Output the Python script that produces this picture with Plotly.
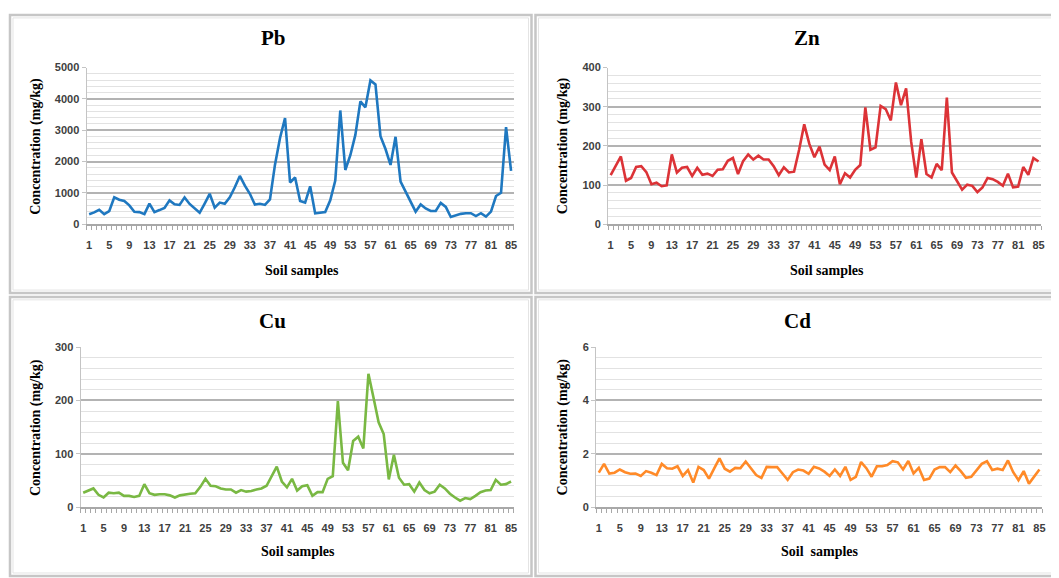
import plotly.graph_objects as go

samples = list(range(1, 86))
tick_samples = list(range(1, 86, 4))

pb = [320, 375, 460, 320, 415, 855, 780, 740, 600, 395,
      385, 320, 655, 385, 450, 520, 760, 635, 615, 855,
      645, 500, 365, 660, 970, 530, 690, 650, 860, 1180,
      1540, 1230, 970, 625, 650, 615, 790, 1900, 2750, 3390,
      1330, 1490, 740, 690, 1210, 345, 365, 385, 760, 1390,
      3630, 1730, 2200, 2850, 3920, 3730, 4590, 4460, 2810, 2400,
      1890, 2790, 1360, 1050, 700, 400, 630, 500, 420, 420,
      680, 550, 230, 290, 330, 350, 350, 260, 350, 240,
      400, 900, 1000, 3100, 1700]

zn = [125, 150, 173, 111, 118, 146, 148, 133, 102, 106,
      97, 99, 178, 132, 144, 146, 123, 144, 126, 129,
      123, 139, 140, 162, 169, 128, 161, 178, 165, 175,
      165, 165, 148, 125, 145, 132, 134, 190, 255, 205,
      171, 198, 152, 138, 173, 102, 130, 119, 139, 151,
      298, 190, 196, 302, 294, 265, 362, 304, 347, 210,
      119, 217, 128, 119, 154, 138, 323, 132, 111, 88,
      101, 98, 82, 94, 118, 115, 108, 98, 129, 94,
      96, 146, 126, 169, 160]

cu = [27, 31, 35, 23, 18, 27, 26, 27, 21, 21,
      19, 21, 43, 26, 23, 24, 24, 22, 18, 22,
      24, 25, 26, 38, 53, 40, 39, 35, 33, 33,
      27, 32, 29, 30, 33, 35, 40, 58, 76, 48,
      37, 53, 31, 39, 41, 21, 28, 28, 53, 58,
      199, 83, 69, 124, 132, 110, 250, 205, 159, 137,
      52, 98, 55, 42, 43, 29, 46, 32, 26, 29,
      42, 35, 25, 18, 12, 17, 15, 21, 28, 31,
      32, 51, 42, 43, 48]

cd = [1.29, 1.62, 1.26, 1.29, 1.41, 1.31, 1.25, 1.26, 1.17, 1.35,
      1.29, 1.20, 1.62, 1.46, 1.44, 1.53, 1.17, 1.39, 0.92, 1.51,
      1.39, 1.07, 1.45, 1.83, 1.44, 1.33, 1.47, 1.46, 1.71, 1.44,
      1.20, 1.09, 1.51, 1.50, 1.50, 1.26, 1.02, 1.31, 1.41, 1.37,
      1.25, 1.51, 1.45, 1.33, 1.17, 1.41, 1.17, 1.51, 1.02, 1.13,
      1.69, 1.46, 1.14, 1.53, 1.53, 1.58, 1.72, 1.68, 1.41, 1.73,
      1.26, 1.47, 1.02, 1.07, 1.41, 1.50, 1.50, 1.31, 1.56, 1.35,
      1.10, 1.14, 1.37, 1.62, 1.72, 1.39, 1.44, 1.39, 1.75, 1.31,
      1.01, 1.35, 0.88, 1.13, 1.41]

# page is 1059x578; the browser body has an 8px margin, so the figure is
# sized to the remaining area and page coordinates are shifted by OFF
OFF = 8
W, H = 1059 - OFF, 578 - OFF


def px(x):
    return (x - OFF) / W


def py(y):
    return 1 - (y - OFF) / H


panels = [
    dict(name="Pb", y=pb, color="#1f78c0", xpx=(86, 515), ypx=(62.7, 222.7),
         ymax=5000, dt=1000, minor=200, tx=274, ty=33, ytx=35, xtx=302, xty=270,
         xtitle="Soil samples"),
    dict(name="Zn", y=zn, color="#dc3337", xpx=(610, 1045), ypx=(62.7, 222.7),
         ymax=400, dt=100, minor=20, tx=810, ty=33, ytx=565, xtx=830, xty=270,
         xtitle="Soil samples"),
    dict(name="Cu", y=cu, color="#79b843", xpx=(80, 515), ypx=(348.3, 511.7),
         ymax=300, dt=100, minor=20, tx=273, ty=322, ytx=35, xtx=298, xty=557,
         xtitle="Soil samples"),
    dict(name="Cd", y=cd, color="#ff8a28", xpx=(598, 1046), ypx=(348.3, 511.7),
         ymax=6, dt=2, minor=0.4, tx=800, ty=322, ytx=565, xtx=823, xty=557,
         xtitle="Soil  samples"),
]

fig = go.Figure()
annotations = []
shapes = []
serif = "Liberation Serif, Times New Roman, serif"
sans = "Liberation Sans, Arial, sans-serif"

for i, p in enumerate(panels):
    n = "" if i == 0 else str(i + 1)
    fig.add_trace(go.Scatter(x=samples, y=p["y"], mode="lines",
                             line=dict(color=p["color"], width=2.6),
                             xaxis="x" + n, yaxis="y" + n, showlegend=False,
                             hoverinfo="x+y"))
    xd = [px(p["xpx"][0]), px(p["xpx"][1])]
    yd = [py(p["ypx"][1]), py(p["ypx"][0])]
    fig.layout["xaxis" + n] = dict(
        domain=xd, anchor="y" + n, range=[0.5, 85.5],
        tickmode="array", tickvals=tick_samples,
        ticktext=[str(v) for v in tick_samples],
        ticks="", showgrid=False, zeroline=False,
        showline=True, linecolor="#a8a8a8", linewidth=1.5,
        tickfont=dict(family=sans, size=11, color="#404040", weight="bold"),
        ticklabelstandoff=10,
        minor=dict(ticks="outside", tick0=0.5, dtick=1, ticklen=4,
                   tickcolor="#a8a8a8", tickwidth=1, showgrid=False),
    )
    fig.layout["yaxis" + n] = dict(
        domain=yd, anchor="x" + n, range=[0, p["ymax"]],
        tickmode="linear", tick0=0, dtick=p["dt"],
        showgrid=True, gridcolor="#b3b3b3", gridwidth=1.6,
        zeroline=False, showline=True, linecolor="#c4c4c4", linewidth=1.2,
        ticks="outside", ticklen=4, tickcolor="#c4c4c4",
        tickfont=dict(family=sans, size=11, color="#404040", weight="bold"),
        minor=dict(dtick=p["minor"], showgrid=True, gridcolor="#e2e2e2",
                   gridwidth=1, ticks=""),
    )
    annotations.append(dict(text="<b>%s</b>" % p["name"], xref="paper", yref="paper",
                            x=px(p["tx"]), y=py(p["ty"]), showarrow=False,
                            xanchor="center", yanchor="middle",
                            font=dict(family=serif, size=21, color="#000")))
    annotations.append(dict(text="<b>Concentration (mg/kg)</b>", xref="paper", yref="paper",
                            x=px(p["ytx"]),
                            y=py((p["ypx"][0] + p["ypx"][1]) / 2),
                            textangle=-90, showarrow=False,
                            xanchor="center", yanchor="middle",
                            font=dict(family=serif, size=14, color="#000")))
    annotations.append(dict(text="<b>%s</b>" % p["xtitle"], xref="paper", yref="paper",
                            x=px(p["xtx"]), y=py(p["xty"]), showarrow=False,
                            xanchor="center", yanchor="middle",
                            font=dict(family=serif, size=14, color="#000")))

# panel frames
frames = [(9, 9, 533, 293), (537, 9, 1062, 293), (9, 297, 533, 582), (537, 297, 1062, 582)]
for (x0, y0, x1, y1) in frames:
    shapes.append(dict(type="rect", xref="paper", yref="paper",
                       x0=px(x0), x1=px(x1), y0=py(y1), y1=py(y0),
                       line=dict(color="#c6c6c6", width=2.5)))
    shapes.append(dict(type="rect", xref="paper", yref="paper",
                       x0=px(x0 + 3), x1=px(x1 - 3), y0=py(y1 - 3), y1=py(y0 + 3),
                       line=dict(color="#e4e4e4", width=1)))

fig.update_layout(width=W, height=H, margin=dict(l=0, r=0, t=0, b=0),
                  paper_bgcolor="white", plot_bgcolor="white",
                  annotations=annotations, shapes=shapes)

fig.write_html("out.html")
